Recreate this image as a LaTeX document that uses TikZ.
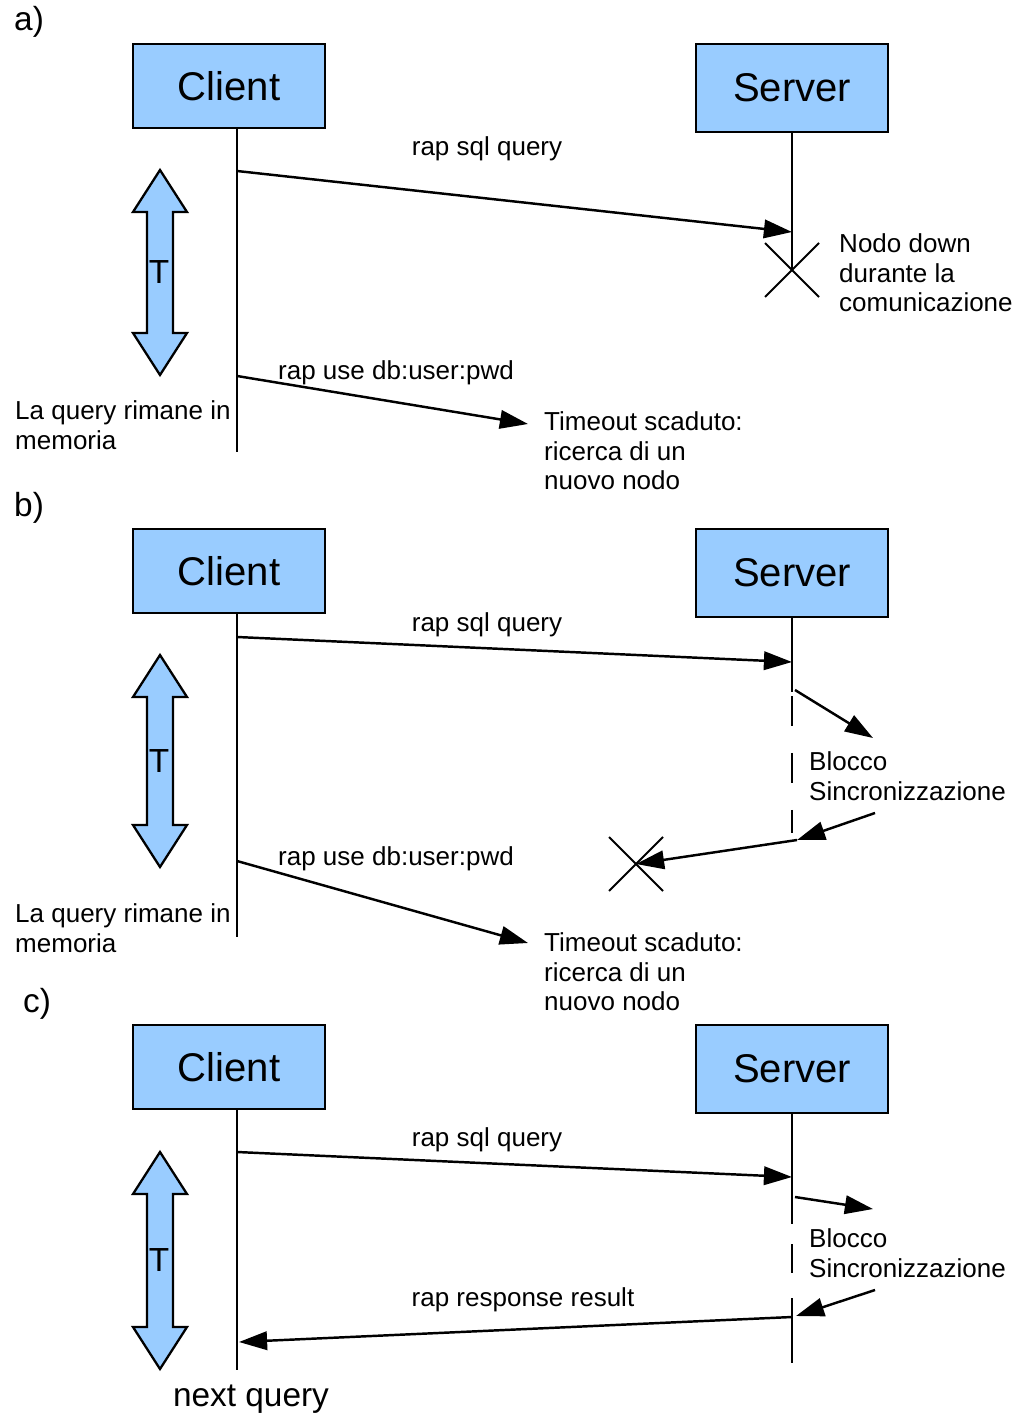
\documentclass[tikz,border=0pt]{standalone}
\usepackage{fontspec}
\setmainfont{Liberation Sans}
\usetikzlibrary{arrows.meta}
\definecolor{boxblue}{RGB}{153,204,255}

\begin{document}
\begin{tikzpicture}[
  x=0.02cm, y=-0.02cm,
  font=\fontsize{14.8}{16.8}\selectfont,
  line width=1.4pt,
  box/.style={draw, fill=boxblue, line width=1.6pt, minimum width=3.84cm,
    minimum height=1.68cm, font=\fontsize{22.8}{26}\selectfont},
  msg/.style={-{Triangle[length=16pt,width=10.5pt]}},
  lbl/.style={inner sep=0pt, anchor=base},
  note/.style={inner sep=0pt, anchor=west, align=left},
  big/.style={font=\fontsize{19}{22}\selectfont},
  cross/.style={line width=1.1pt},
  gap/.style={dash pattern=on 0.6cm off 0.54cm},
]

% Page is 1016 x 1415 px; one unit = one pixel of the original, y grows downward
\useasboundingbox (0,0) rectangle (1016,1415);

% ── Common frame of the three cases ─────────────────────────────────────
% Each entry: case, vertical offset, x of the case letter,
% top/bottom of the T arrow, length of the client lifeline
\foreach \p/\oy/\lx/\tt/\tb/\ll in {
  a/0/13/170/375/324,
  b/485/13/655/867/324,
  c/981/22/1152/1369/261%
} {
  \node[big, lbl, anchor=base west] (case\p) at (\lx, \oy+31) {\p)};

  \node[box] (client\p) at (229, \oy+86) {Client};
  \node[box, minimum height=1.76cm] (server\p) at (792, \oy+88) {Server};

  % client lifeline, a little right of the box centre
  \coordinate (ctop\p) at (237, \oy+128);
  \coordinate (cend\p) at (237, \oy+128+\ll);
  \draw (ctop\p) -- (cend\p);

  % waiting time T (double arrow drawn as a polygon)
  \filldraw[fill=boxblue, line width=1.3pt]
    (160,\tt) -- (187,\tt+42) -- (173,\tt+42) -- (173,\tb-42) -- (187,\tb-42)
      -- (160,\tb) -- (133,\tb-42) -- (147,\tb-42) -- (147,\tt+42)
      -- (133,\tt+42) -- cycle;
  \node[big] (time\p) at (159, {(\tt+\tb)/2}) {T};
}

% ── a) node goes down during the exchange ───────────────────────────────
\coordinate (xa) at (792,270);
\draw (servera.south) -- (xa);
\draw[cross] (xa) +(-27,-27) -- +(27,27) (xa) +(-27,27) -- +(27,-27);

\coordinate (qa1) at (237,171);
\coordinate (qa2) at (792,232);
\draw[msg] (qa1) -- (qa2);
\node[lbl] (sqla) at (487,156) {rap sql query};
\node[note] (downa) at (838,273) {Nodo down\\durante la\\comunicazione};

\coordinate (ua1) at (237,376);
\coordinate (ua2) at (528,424);
\draw[msg] (ua1) -- (ua2);
\node[lbl] (usea) at (396,379) {rap use db:user:pwd};
\node[note] (mema) at (14,425) {La query rimane in\\memoria};
\node[note] (timeouta) at (543,451) {Timeout scaduto:\\ricerca di un\\nuovo nodo};

% ── b) server blocked by synchronisation ────────────────────────────────
\coordinate (qb1) at (237,637);
\coordinate (qb2) at (792,662);
\draw[msg] (qb1) -- (qb2);
\node[lbl] (sqlb) at (487,631) {rap sql query};

% lifeline turns dashed while the server is blocked
\coordinate (sb1) at (792,692);
\coordinate (sb2) at (792,696);
\coordinate (sb3) at (792,833);
\draw (serverb.south) -- (sb1);
\draw[gap] (sb2) -- (sb3);

\coordinate (kb1) at (795,690);
\coordinate (kb2) at (873,738);
\draw[msg] (kb1) -- (kb2);
\node[note] (syncb) at (808,776) {Blocco\\Sincronizzazione};
\coordinate (kb3) at (875,813);
\coordinate (kb4) at (797,840);
\draw[msg] (kb3) -- (kb4);

% answer gets lost: client already gave up
\coordinate (xb) at (636,864);
\draw[msg] (kb4) -- (xb);
\draw[cross] (xb) +(-27,-27) -- +(27,27) (xb) +(-27,27) -- +(27,-27);

\coordinate (ub1) at (237,861);
\coordinate (ub2) at (528,943);
\draw[msg] (ub1) -- (ub2);
\node[lbl] (useb) at (396,865) {rap use db:user:pwd};
\node[note] (memb) at (14,928) {La query rimane in\\memoria};
\node[note] (timeoutb) at (543,972) {Timeout scaduto:\\ricerca di un\\nuovo nodo};

% ── c) answer in time ───────────────────────────────────────────────────
\coordinate (qc1) at (237,1152);
\coordinate (qc2) at (792,1177);
\draw[msg] (qc1) -- (qc2);
\node[lbl] (sqlc) at (487,1146) {rap sql query};

\coordinate (sc1) at (792,1363);
\draw[dash pattern=on 2.2cm off 0.4cm on 0.58cm off 0.5cm on 1.5cm]
  (serverc.south) -- (sc1);

\coordinate (kc1) at (795,1197);
\coordinate (kc2) at (873,1209);
\draw[msg] (kc1) -- (kc2);
\node[note] (syncc) at (808,1253) {Blocco\\Sincronizzazione};
\coordinate (kc3) at (875,1290);
\coordinate (kc4) at (796,1316);
\draw[msg] (kc3) -- (kc4);

\coordinate (rc1) at (792,1317);
\coordinate (rc2) at (239,1342);
\draw[msg] (rc1) -- (rc2);
\node[lbl] (respc) at (523,1306) {rap response result};
\node[big, lbl] (nextc) at (251,1406) {next query};

\end{tikzpicture}
\end{document}
